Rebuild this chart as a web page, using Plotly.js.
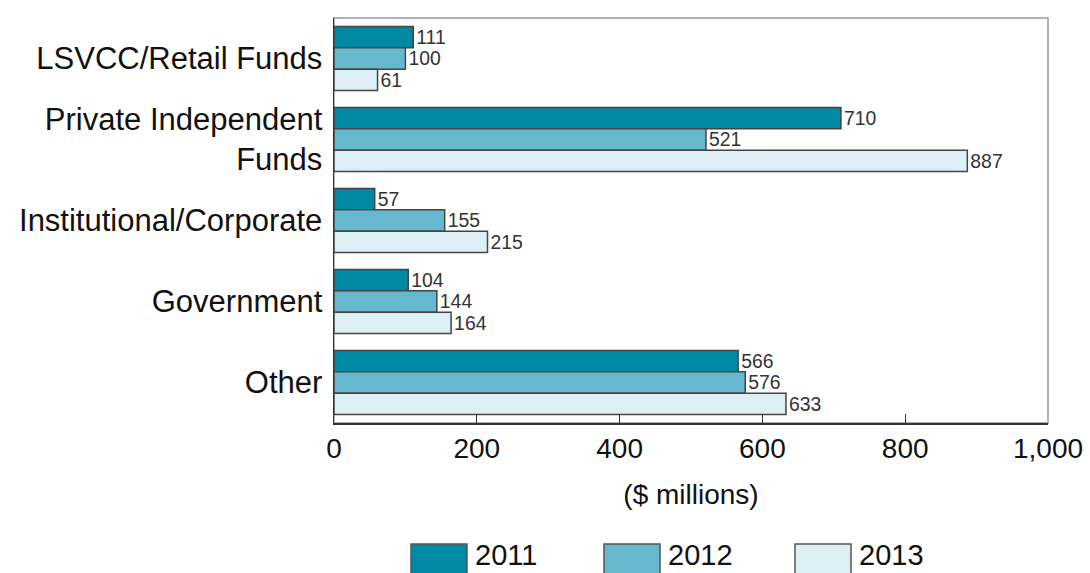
<!DOCTYPE html>
<html>
<head>
<meta charset="utf-8">
<script src="https://cdn.plot.ly/plotly-3.0.1.min.js"></script>
<style>html,body{margin:0;padding:0;background:#fff;}#chart{width:1090px;height:573px;}</style>
</head>
<body>
<div id="chart"></div>
<script>
const categories = ["LSVCC/Retail Funds", "Private Independent<br>Funds", "Institutional/Corporate", "Government", "Other"];
const years = ["2011", "2012", "2013"];
const values2011 = [111, 710, 57, 104, 566];
const values2012 = [100, 521, 155, 144, 576];
const values2013 = [61, 887, 215, 164, 633];
const xTicks = [0, 200, 400, 600, 800, 1000];
const xTickLabels = ["0", "200", "400", "600", "800", "1,000"];

const colors = ["#0089A5", "#66B8CE", "#DDEEF5"];
const series = [values2011, values2012, values2013];
const FONT = "Liberation Sans, Arial, Helvetica, sans-serif";

const traces = series.map((vals, i) => ({
  type: "bar",
  orientation: "h",
  name: years[i],
  y: categories,
  x: vals,
  text: vals.map(v => String(v)),
  textposition: "outside",
  cliponaxis: false,
  textfont: {family: FONT, size: 20, color: "#333"},
  marker: {color: colors[i], line: {color: "#444", width: 1.5}},
  hoverinfo: "none",
  showlegend: false
}));

// plot area geometry (pixels) used to place the custom legend
const W = 1090, H = 573, mL = 334, mR = 42, mT = 18, mB = 150;
const pw = W - mL - mR, ph = H - mT - mB;
const px2x = p => (p - mL) / pw;
const py2y = p => (H - mB - p) / ph;

const legendStarts = [411, 604, 795];
const shapes = [{
  type: "rect", xref: "paper", yref: "paper", x0: 0, x1: 1, y0: 0, y1: 1,
  line: {color: "#999", width: 1.5}, layer: "below"
}];
const annotations = [];
years.forEach((yr, i) => {
  const s = legendStarts[i];
  shapes.push({
    type: "rect", xref: "paper", yref: "paper",
    x0: px2x(s), x1: px2x(s + 56), y0: py2y(544), y1: py2y(580),
    fillcolor: colors[i], line: {color: "#555", width: 1.5}
  });
  annotations.push({
    xref: "paper", yref: "paper", x: px2x(s + 62), y: py2y(555),
    xanchor: "left", yanchor: "middle", showarrow: false,
    text: yr, font: {family: FONT, size: 29, color: "#111"}
  });
});

const layout = {
  width: W, height: H,
  margin: {l: mL, r: mR, t: mT, b: mB},
  paper_bgcolor: "#fff", plot_bgcolor: "#fff",
  font: {family: FONT, color: "#111"},
  barmode: "group",
  bargap: 0.21,
  bargroupgap: 0,
  showlegend: false,
  xaxis: {
    range: [0, 1000], tickvals: xTicks, ticktext: xTickLabels,
    ticks: "inside", ticklen: 9, tickcolor: "#333", tickwidth: 1.2,
    showgrid: false, zeroline: false,
    showline: true, linecolor: "#333", linewidth: 1.5,
    tickfont: {size: 28, color: "#111"},
    title: {text: "($ millions)", font: {size: 28, color: "#111"}, standoff: 21},
    automargin: false
  },
  yaxis: {
    autorange: "reversed", range: [-0.5, 4.5],
    showgrid: false, zeroline: false, ticks: "",
    showline: true, linecolor: "#333", linewidth: 1.5,
    tickfont: {size: 31, color: "#111"}, ticklabelstandoff: 4,
    automargin: false
  },
  shapes: shapes,
  annotations: annotations
};

Plotly.newPlot("chart", traces, layout, {staticPlot: true, displayModeBar: false});
</script>
</body>
</html>
